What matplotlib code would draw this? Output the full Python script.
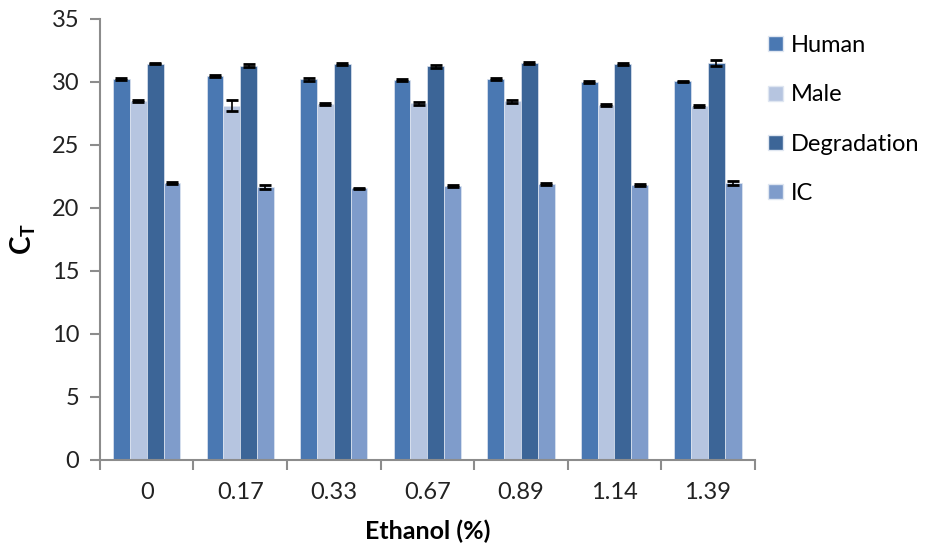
import numpy as np
import matplotlib
matplotlib.use('Agg')
import matplotlib.pyplot as plt
from matplotlib.patches import Patch

plt.rcParams['font.family'] = ['Lato', 'DejaVu Sans']

# data
ethanol = ['0', '0.17', '0.33', '0.67', '0.89', '1.14', '1.39']
human = [30.25, 30.45, 30.2, 30.15, 30.25, 30.0, 30.05]
male = [28.5, 28.1, 28.25, 28.3, 28.45, 28.15, 28.1]
degradation = [31.45, 31.3, 31.4, 31.25, 31.5, 31.4, 31.5]
ic = [22.0, 21.65, 21.55, 21.75, 21.9, 21.8, 21.95]

human_err = [0.08, 0.06, 0.1, 0.08, 0.08, 0.06, 0.06]
male_err = [0.1, 0.45, 0.06, 0.1, 0.15, 0.06, 0.1]
degradation_err = [0.06, 0.1, 0.06, 0.12, 0.06, 0.06, 0.2]
ic_err = [0.08, 0.15, 0.05, 0.06, 0.06, 0.1, 0.15]

names = ['Human', 'Male', 'Degradation', 'IC']
colors = ['#4a78b2', '#b6c5e0', '#3c6597', '#7f9ccb']

fig = plt.figure(figsize=(9.34, 5.56), dpi=100)
ax = fig.add_axes([0.107, 0.173, 0.701, 0.793])

x = np.arange(len(ethanol))
w = 0.18
series = [human, male, degradation, ic]
errs = [human_err, male_err, degradation_err, ic_err]
for i in range(4):
    pos = x + (i - 1.5) * w
    ax.bar(pos, series[i], w, color=colors[i], edgecolor='#dfe6f1', linewidth=0.5)
    ax.errorbar(pos, series[i], yerr=errs[i], fmt='none', ecolor='black',
                elinewidth=1.2, capsize=4, capthick=2)

ax.set_xlim(-0.5, len(ethanol) - 0.5)
ax.set_ylim(0, 35)
ax.set_yticks(np.arange(0, 36, 5))
ax.set_xticks(x)
ax.set_xticklabels(ethanol)
ax.set_xticks(np.arange(-0.5, len(ethanol)), minor=True)
ax.tick_params(axis='x', which='major', length=0, pad=16, labelsize=17, colors='#222222')
ax.tick_params(axis='x', which='minor', length=7, width=1.5, color='#8c8c8c')
ax.tick_params(axis='y', length=7, width=1.5, color='#8c8c8c', labelsize=17,
               labelcolor='#222222', pad=8)

for s in ['top', 'right']:
    ax.spines[s].set_visible(False)
for s in ['left', 'bottom']:
    ax.spines[s].set_color('#8c8c8c')
    ax.spines[s].set_linewidth(1.5)

ax.set_xlabel('Ethanol (%)', fontsize=18, fontweight='bold', labelpad=12)
ax.set_ylabel('C$_\\mathregular{T}$', fontsize=20, fontweight='bold', labelpad=10)

handles = [Patch(facecolor=c, edgecolor='#dfe6f1') for c in colors]
fig.legend(handles, names, loc='upper left', bbox_to_anchor=(0.8, 0.975),
           frameon=False, fontsize=17, handlelength=0.6, handleheight=0.6,
           labelspacing=1.2, handletextpad=0.35)

fig.savefig('out.png', dpi=100)
